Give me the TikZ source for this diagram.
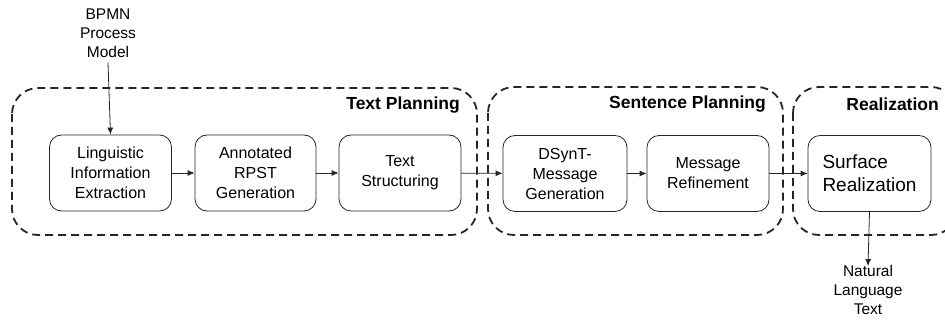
\documentclass[tikz,border=0pt]{standalone}
\usepackage{fontspec}
\setmainfont{Liberation Sans}
\usetikzlibrary{arrows.meta}
\begin{document}
\begin{tikzpicture}[x=1pt,y=-1pt,
  proc/.style={draw=black!85,line width=0.8pt,rounded corners=12pt,minimum width=122pt,minimum height=76pt,align=center,font=\fontsize{16}{20}\selectfont,inner sep=2pt},
  phase/.style={draw=black!85,line width=1.8pt,dash pattern=on 8pt off 5pt,rounded corners=26pt},
  phaselabel/.style={font=\fontsize{17.5}{20}\selectfont\bfseries,anchor=east,inner sep=0pt},
  plain/.style={align=center,font=\fontsize{15.5}{19}\selectfont,inner sep=1pt},
  flow/.style={draw=black!85,line width=0.8pt,-{Latex[length=7pt,width=6pt]}}]
\useasboundingbox (0,0) rectangle (945,320);
\clip (0,0) rectangle (945,320);
\fill[white] (0,0) rectangle (945,320);
% phase containers
\draw[phase] (12,88) rectangle (477,235);
\draw[phase] (488,87) rectangle (783,235);
\draw[phase] (793,87) rectangle (957,235);
\node[phaselabel] (tp) at (460,105) {Text Planning};
\node[phaselabel] (sp) at (766,104) {Sentence Planning};
\node[phaselabel] (rl) at (939,104) {Realization};
% process steps
\node[proc] (lie) at (110.5,173) {Linguistic\\Information\\Extraction};
\node[proc,minimum width=121pt] (arg) at (255.5,173) {Annotated\\RPST\\Generation};
\node[proc] (ts) at (400,173) {Text\\Structuring};
\node[proc,minimum width=124pt] (dsm) at (565,173.5) {DSynT-\\Message\\Generation};
\node[proc] (mr) at (708,173.5) {Message\\Refinement};
\node[proc,minimum width=123pt,align=left,font=\fontsize{19}{23}\selectfont] (sr) at (869.5,173.5) {Surface\\Realization};
% input/output
\node[plain] (in) at (108,33) {BPMN\\Process\\Model};
\node[plain] (out) at (868,290) {Natural\\Language\\Text};
% connectors
\draw[flow] (in.south) ++(0,4) -- (lie.north);
\draw[flow] (lie) -- (arg);
\draw[flow] (arg) -- (ts);
\draw[flow] (ts) -- (dsm);
\draw[flow] (dsm) -- (mr);
\draw[flow] (mr) -- (sr);
\draw[flow] (sr.south) -- ([yshift=-2pt]out.north);
\end{tikzpicture}
\end{document}
